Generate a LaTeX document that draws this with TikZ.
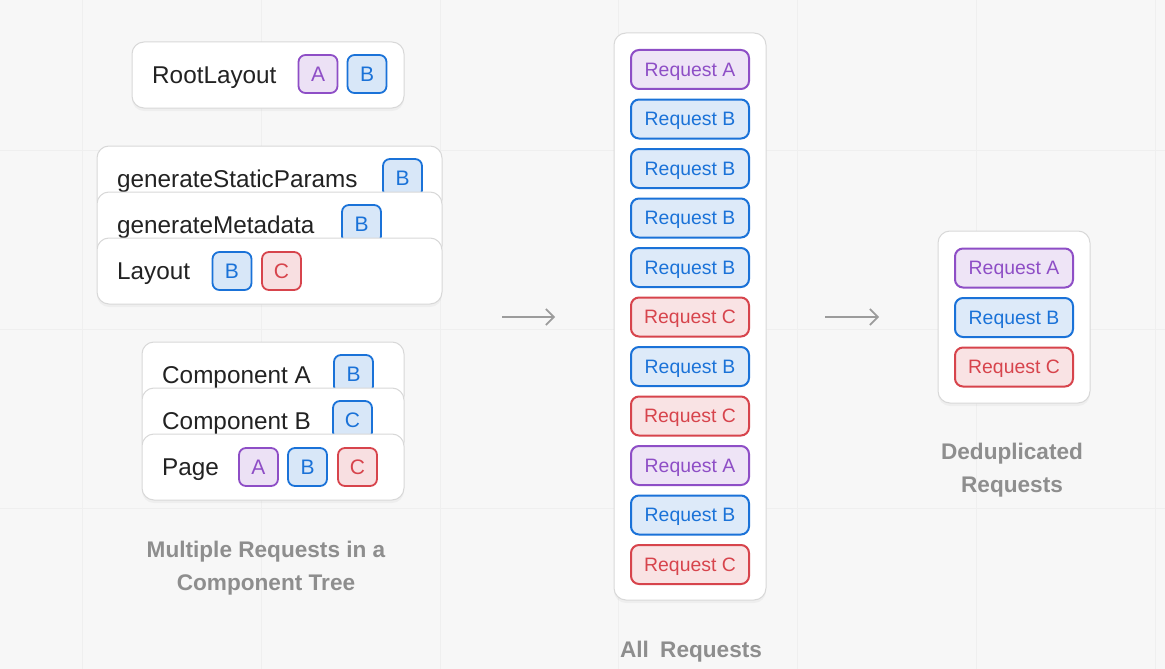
\documentclass[tikz,border=0pt]{standalone}
\usepackage{fontspec}
\setmainfont{Liberation Sans}
\usetikzlibrary{shadows,arrows.meta}
\definecolor{bg}{HTML}{F7F7F7}
\definecolor{gridc}{HTML}{EFEFEF}
\definecolor{cardline}{HTML}{D8D8D8}
\definecolor{ink}{HTML}{222222}
\definecolor{capc}{HTML}{8E8E8E}
\definecolor{arrc}{HTML}{9C9C9C}
\definecolor{pA}{HTML}{8E4EC6}
\definecolor{pB}{HTML}{1A72D8}
\definecolor{pC}{HTML}{D7444C}
\tikzset{
  card/.style={draw=cardline, fill=white, rounded corners=12pt, line width=1pt,
    inner sep=0pt, outer sep=0pt,
    drop shadow={opacity=0.07, shadow xshift=0pt, shadow yshift=-3pt}},
  cardtext/.style={anchor=west, inner sep=0pt, text=ink, text height=17pt, text depth=0pt,
    font=\fontsize{24.3}{25}\selectfont},
  badge/.style={draw=#1, fill=#1!17, text=#1, line width=1.8pt, rounded corners=7pt,
    minimum width=39pt, minimum height=38pt, inner sep=0pt,
    text height=15pt, text depth=0pt,
    font=\fontsize{21}{21}\selectfont},
  req/.style={draw=#1, fill=#1!15, text=#1, line width=2pt, rounded corners=8pt,
    minimum width=118pt, minimum height=39pt, inner sep=0pt,
    text height=13.8pt, text depth=0pt,
    font=\fontsize{19.4}{20}\selectfont},
  caption/.style={text=capc, align=center, inner sep=0pt,
    font=\fontsize{22.6}{33}\selectfont\bfseries},
  flow/.style={draw=arrc, line width=1.6pt, -{Straight Barb[length=8pt,width=16pt,line width=1.6pt]}},
}
\begin{document}
\begin{tikzpicture}[x=1pt,y=-1pt]
\useasboundingbox (0,0) rectangle (1165,669);
\fill[bg] (0,0) rectangle (1165,669);
% faint grid
\foreach \gx in {82,261,440,618,797,976,1155}
  \draw[gridc, line width=1pt] (\gx,0) -- (\gx,669);
\foreach \gy in {150,329,508}
  \draw[gridc, line width=1pt] (0,\gy) -- (1165,\gy);

% ---- left column: component tree ----
\node[card, minimum width=272pt, minimum height=66pt] (root) at (268,75) {};
\node[cardtext] (rootT) at (152,75) {RootLayout};
\node[badge=pA] (rootA) at (318,74) {A};
\node[badge=pB] (rootB) at (367,74) {B};

\node[card, minimum width=345pt, minimum height=66pt] (gsp) at (269.5,179) {};
\node[cardtext] (gspT) at (117,178.5) {generateStaticParams};
\node[badge=pB] (gspB) at (402.5,178) {B};

\node[card, minimum width=345pt, minimum height=66pt] (gmd) at (269.5,225) {};
\node[cardtext] (gmdT) at (117,224.5) {generateMetadata};
\node[badge=pB] (gmdB) at (361.5,224) {B};

\node[card, minimum width=345pt, minimum height=66pt] (lay) at (269.5,271) {};
\node[cardtext] (layT) at (117,271) {Layout};
\node[badge=pB] (layB) at (232,271) {B};
\node[badge=pC] (layC) at (281.5,271) {C};

\node[card, minimum width=262pt, minimum height=66pt] (cA) at (273,375) {};
\node[cardtext] (cAT) at (162,374.5) {Component A};
\node[badge=pB] (cAB) at (353.5,374) {B};

\node[card, minimum width=262pt, minimum height=66pt] (cB) at (273,421) {};
\node[cardtext] (cBT) at (162,420.5) {Component B};
\node[badge=pB] (cBC) at (352.5,420) {C};

\node[card, minimum width=262pt, minimum height=66pt] (page) at (273,467) {};
\node[cardtext] (pageT) at (162,466.5) {Page};
\node[badge=pA] (pageA) at (258.5,467) {A};
\node[badge=pB] (pageB) at (307.5,467) {B};
\node[badge=pC] (pageC) at (357.5,467) {C};

\node[caption] (capL) at (266,568) {Multiple Requests in a\\Component Tree};

% ---- middle column: all requests ----
\node[card, minimum width=152pt, minimum height=567pt] (all) at (690,316.5) {};
\foreach \i/\c/\l in {0/pA/A,1/pB/B,2/pB/B,3/pB/B,4/pB/B,5/pC/C,6/pB/B,7/pC/C,8/pA/A,9/pB/B,10/pC/C}
  \node[req=\c] (all\i) at (690,{69.5+49.5*\i}) {Request \l};
\node[caption] (capM) at (691,651.5) {All\hspace{0.5em}Requests};

% ---- right column: deduplicated ----
\node[card, minimum width=152pt, minimum height=172pt] (dedup) at (1014,317) {};
\node[req=pA] (dA) at (1014,268) {Request A};
\node[req=pB] (dB) at (1014,317.5) {Request B};
\node[req=pC] (dC) at (1014,367) {Request C};
\node[caption] (capR) at (1012,470) {Deduplicated\\Requests};

% ---- arrows ----
\coordinate (a1s) at (502,317);
\coordinate (a1e) at (555,317);
\coordinate (a2s) at (825,317);
\coordinate (a2e) at (879,317);
\draw[flow] (a1s) -- (a1e);
\draw[flow] (a2s) -- (a2e);
\end{tikzpicture}
\end{document}
